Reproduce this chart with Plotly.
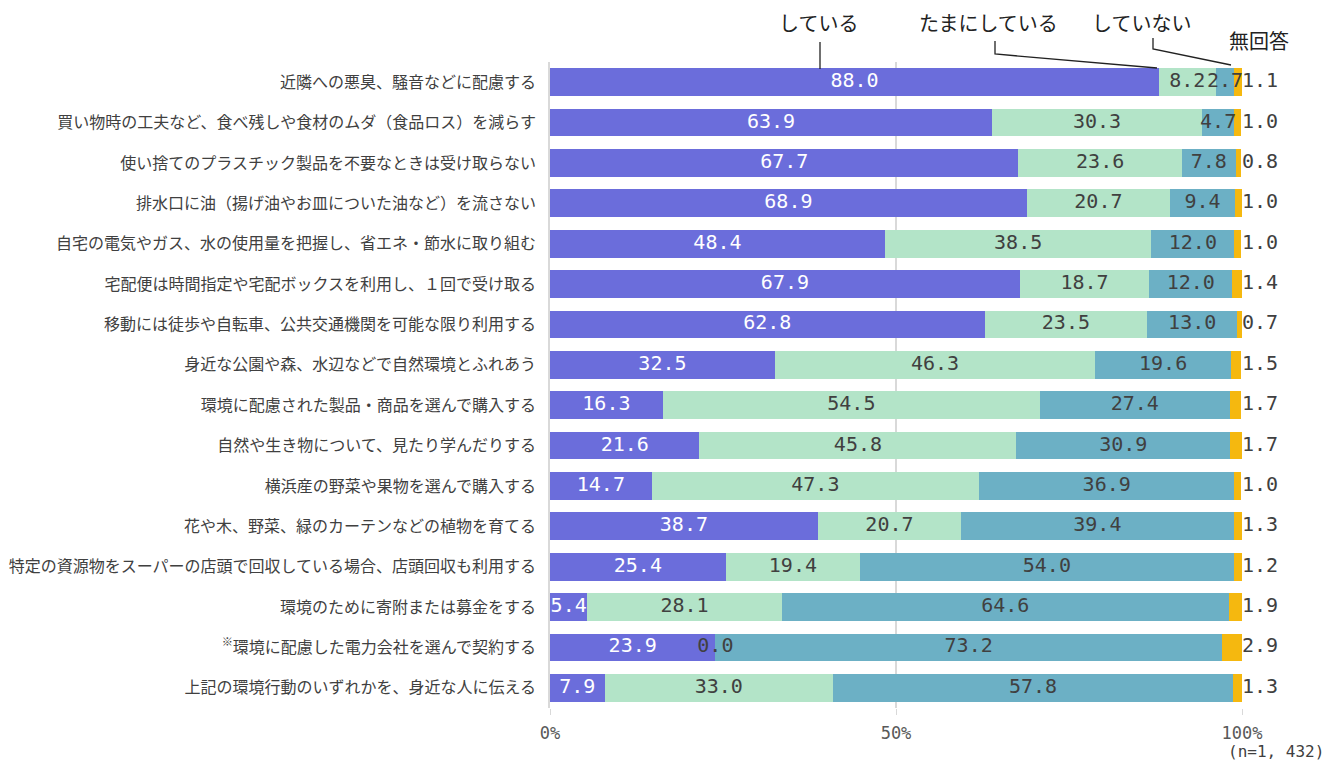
import plotly.graph_objects as go

categories = [
    "近隣への悪臭、騒音などに配慮する",
    "買い物時の工夫など、食べ残しや食材のムダ（食品ロス）を減らす",
    "使い捨てのプラスチック製品を不要なときは受け取らない",
    "排水口に油（揚げ油やお皿についた油など）を流さない",
    "自宅の電気やガス、水の使用量を把握し、省エネ・節水に取り組む",
    "宅配便は時間指定や宅配ボックスを利用し、１回で受け取る",
    "移動には徒歩や自転車、公共交通機関を可能な限り利用する",
    "身近な公園や森、水辺などで自然環境とふれあう",
    "環境に配慮された製品・商品を選んで購入する",
    "自然や生き物について、見たり学んだりする",
    "横浜産の野菜や果物を選んで購入する",
    "花や木、野菜、緑のカーテンなどの植物を育てる",
    "特定の資源物をスーパーの店頭で回収している場合、店頭回収も利用する",
    "環境のために寄附または募金をする",
    "<sup>※</sup>環境に配慮した電力会社を選んで契約する",
    "上記の環境行動のいずれかを、身近な人に伝える",
]
series_names = ["している", "たまにしている", "していない", "無回答"]
doing = [88.0, 63.9, 67.7, 68.9, 48.4, 67.9, 62.8, 32.5, 16.3, 21.6, 14.7, 38.7, 25.4, 5.4, 23.9, 7.9]
sometimes = [8.2, 30.3, 23.6, 20.7, 38.5, 18.7, 23.5, 46.3, 54.5, 45.8, 47.3, 20.7, 19.4, 28.1, 0.0, 33.0]
not_doing = [2.7, 4.7, 7.8, 9.4, 12.0, 12.0, 13.0, 19.6, 27.4, 30.9, 36.9, 39.4, 54.0, 64.6, 73.2, 57.8]
no_answer = [1.1, 1.0, 0.8, 1.0, 1.0, 1.4, 0.7, 1.5, 1.7, 1.7, 1.0, 1.3, 1.2, 1.9, 2.9, 1.3]
x_ticks = [0, 50, 100]
x_ticktext = ["0%", "50%", "100%"]

colors = ["#6b6ddb", "#b3e4c8", "#6cb0c5", "#f5b80f"]
label_colors = ["white", "#404040", "#404040"]
num_font = "DejaVu Sans Mono"
jp_font = "Noto Sans CJK JP"

fig = go.Figure()

all_series = [doing, sometimes, not_doing, no_answer]
for name, vals, col in zip(series_names, all_series, colors):
    fig.add_trace(go.Bar(
        y=categories, x=vals, name=name, orientation="h",
        marker=dict(color=col, line=dict(width=0)),
        hoverinfo="x+y",
    ))

# value labels, drawn on top so overflowing text stays visible
base = [0.0] * len(categories)
for vals, tcol in zip(all_series[:3], label_colors):
    mids = [b + v / 2 for b, v in zip(base, vals)]
    fig.add_trace(go.Scatter(
        y=categories, x=mids, mode="text",
        text=[f"{v:.1f}" for v in vals], textposition="middle center",
        textfont=dict(family=num_font, size=20, color=tcol),
        cliponaxis=False, showlegend=False, hoverinfo="skip",
    ))
    base = [b + v for b, v in zip(base, vals)]

# no-answer values shown to the right of the bars
fig.add_trace(go.Scatter(
    y=categories, x=[100] * len(categories), mode="text",
    text=[f"{v:.1f}" for v in no_answer], textposition="middle right",
    textfont=dict(family=num_font, size=20, color="#404040"),
    cliponaxis=False, showlegend=False, hoverinfo="skip",
))

# legend labels with leader lines (pixel -> paper)
def px(x):
    return (x - 550) / 692

def py(y):
    return (708 - y) / 646

legend_txt = [("している", 818, 23), ("たまにしている", 988, 23), ("していない", 1141, 23), ("無回答", 1259, 40)]
for t, x, y in legend_txt:
    fig.add_annotation(x=px(x), y=py(y), xref="paper", yref="paper", text=t, showarrow=False,
                       xanchor="center", yanchor="middle", borderpad=0,
                       font=dict(family=jp_font, size=20, color="#222"))

leaders = [
    [(820, 42), (820, 69)],
    [(995, 41), (995, 54), (1157, 68)],
    [(1153, 38), (1153, 49), (1231, 65)],
]
for pts in leaders:
    path = "M " + " L ".join(f"{px(a)},{py(b)}" for a, b in pts)
    fig.add_shape(type="path", path=path, xref="paper", yref="paper",
                  line=dict(color="#222", width=1.3))

fig.add_annotation(x=px(1276), y=py(751), xref="paper", yref="paper", text="(n=1, 432)", showarrow=False,
                   xanchor="center", yanchor="middle",
                   font=dict(family=num_font, size=16, color="#404040"))

# page body has an 8px margin, so the figure is 8px smaller on each axis
fig.update_layout(
    barmode="stack",
    bargap=0.31,
    width=1327, height=757,
    margin=dict(l=542, r=93, t=54, b=57, autoexpand=False),
    plot_bgcolor="white", paper_bgcolor="white",
    showlegend=False,
    xaxis=dict(
        range=[0, 100], tickvals=x_ticks, ticktext=x_ticktext,
        showgrid=True, gridcolor="#d9d9d9", gridwidth=1.5, zeroline=False,
        ticks="outside", ticklen=6, tickcolor="#d9d9d9", ticklabelstandoff=4,
        tickfont=dict(family=num_font, size=17, color="#595959"),
        fixedrange=True, automargin=False,
    ),
    yaxis=dict(
        range=[len(categories) - 0.5, -0.5], showline=True, linecolor="#d9d9d9", linewidth=1.5,
        tickfont=dict(family=jp_font, size=16, color="#404040"),
        ticks="", ticklabelstandoff=9, fixedrange=True, automargin=False,
    ),
)

fig.write_html("out.html")
